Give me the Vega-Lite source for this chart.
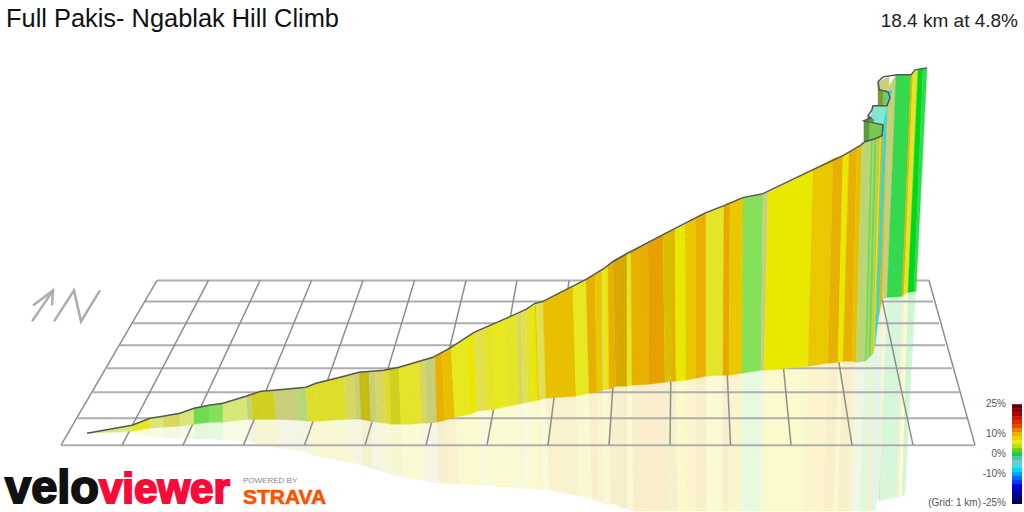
{"$schema":"https://vega.github.io/schema/vega-lite/v6.json","width":1024,"height":512,"padding":0,"autosize":{"type":"fit","contains":"padding"},"background":"white","config":{"view":{"stroke":null},"legend":{"disable":true}},
"datasets":{"seg":[
{"s":0,"g":2,"x":[87,132,132,87],"y":[434,426,432,434],"rx":[87,132,132,87],"ry":[434,432,434,434]},
{"s":1,"g":5.5,"x":[132,150,150,132],"y":[426,419,429,432],"rx":[132,150,150,132],"ry":[432,429,437,434]},
{"s":2,"g":2,"x":[150,163,163,150],"y":[419,417,428,429],"rx":[150,163,163,150],"ry":[429,428,438,437]},
{"s":3,"g":2.5,"x":[163,180,180,163],"y":[417,414,427,428],"rx":[163,180,180,163],"ry":[428,427,439,438]},
{"s":4,"g":2,"x":[180,194,194,180],"y":[414,409,425,427],"rx":[180,194,194,180],"ry":[427,425,440,439]},
{"s":5,"g":0,"x":[194,209,209,194],"y":[409,406,423,425],"rx":[194,209,209,194],"ry":[425,423,440,440]},
{"s":6,"g":0.5,"x":[209,223,223,209],"y":[406,404,423,423],"rx":[209,223,223,209],"ry":[423,423,441,440]},
{"s":7,"g":2,"x":[223,246,248,223],"y":[404,397,420,423],"rx":[223,248,249,223],"ry":[423,420,442,441]},
{"s":8,"g":1.5,"x":[246,251,253,248],"y":[397,395,420,420],"rx":[248,253,254,249],"ry":[420,420,444,442]},
{"s":9,"g":3.5,"x":[251,261,263,253],"y":[395,392,420,420],"rx":[253,263,264,254],"ry":[420,420,446,444]},
{"s":10,"g":3.5,"x":[261,274,276,263],"y":[392,391,420,420],"rx":[263,276,278,264],"ry":[420,420,449,446]},
{"s":11,"g":1.5,"x":[274,297,299,276],"y":[391,389,421,420],"rx":[276,299,301,278],"ry":[420,421,452,449]},
{"s":12,"g":1,"x":[297,306,308,299],"y":[389,388,422,421],"rx":[299,308,310,301],"ry":[421,422,455,452]},
{"s":13,"g":4,"x":[306,316,318,308],"y":[388,384,422,422],"rx":[308,318,320,310],"ry":[422,422,458,455]},
{"s":14,"g":4,"x":[316,344,346,318],"y":[384,377,420,422],"rx":[318,346,348,320],"ry":[422,420,463,458]},
{"s":15,"g":2.5,"x":[344,354,356,346],"y":[377,374,419,420],"rx":[346,356,358,348],"ry":[420,419,465,463]},
{"s":16,"g":1.5,"x":[354,359,361,356],"y":[374,373,420,419],"rx":[356,361,363,358],"ry":[419,420,466,465]},
{"s":17,"g":3,"x":[359,364,366,361],"y":[373,372,421,420],"rx":[361,366,368,363],"ry":[420,421,468,466]},
{"s":18,"g":3,"x":[364,369,371,366],"y":[372,372,422,421],"rx":[366,371,373,368],"ry":[421,422,470,468]},
{"s":19,"g":1.5,"x":[369,375,377,371],"y":[372,372,423,422],"rx":[371,377,379,373],"ry":[422,423,472,470]},
{"s":20,"g":2.5,"x":[375,384,386,377],"y":[372,371,424,423],"rx":[377,386,388,379],"ry":[423,424,474,472]},
{"s":21,"g":4,"x":[384,389,391,386],"y":[371,370,425,424],"rx":[386,391,393,388],"ry":[424,425,476,474]},
{"s":22,"g":3.5,"x":[389,399,401,391],"y":[370,368,425,425],"rx":[391,401,403,393],"ry":[425,425,478,476]},
{"s":23,"g":4.5,"x":[399,409,411,401],"y":[368,365,425,425],"rx":[401,411,413,403],"ry":[425,425,480,478]},
{"s":24,"g":4.5,"x":[409,419,421,411],"y":[365,362,424,425],"rx":[411,421,423,413],"ry":[425,424,481,480]},
{"s":25,"g":2.5,"x":[419,425,427,421],"y":[362,360,424,424],"rx":[421,427,429,423],"ry":[424,424,483,481]},
{"s":26,"g":1.5,"x":[425,435,437,427],"y":[360,357,423,424],"rx":[427,437,439,429],"ry":[424,423,484,483]},
{"s":27,"g":8,"x":[435,442,445,437],"y":[357,353,421,423],"rx":[437,445,448,439],"ry":[423,421,485,484]},
{"s":28,"g":7.5,"x":[442,451,455,445],"y":[353,348,418,421],"rx":[445,455,459,448],"ry":[421,418,485,485]},
{"s":29,"g":5.5,"x":[451,467,470,455],"y":[348,338,415,418],"rx":[455,470,473,459],"ry":[418,415,486,485]},
{"s":30,"g":6,"x":[467,474,477,470],"y":[338,333,412,415],"rx":[470,477,480,473],"ry":[415,412,486,486]},
{"s":31,"g":5,"x":[474,483,486,477],"y":[333,329,411,412],"rx":[477,486,489,480],"ry":[412,411,486,486]},
{"s":32,"g":4.5,"x":[483,493,495,486],"y":[329,325,410,411],"rx":[486,495,497,489],"ry":[411,410,488,486]},
{"s":33,"g":5.5,"x":[493,506,508,495],"y":[325,319,407,410],"rx":[495,508,510,497],"ry":[410,407,488,488]},
{"s":34,"g":4.5,"x":[506,517,519,508],"y":[319,315,405,407],"rx":[508,519,521,510],"ry":[407,405,490,488]},
{"s":35,"g":2.5,"x":[517,521,523,519],"y":[315,313,404,405],"rx":[519,523,525,521],"ry":[405,404,490,490]},
{"s":36,"g":5,"x":[521,526,528,523],"y":[313,310,403,404],"rx":[523,528,530,525],"ry":[404,403,490,490]},
{"s":37,"g":4.5,"x":[526,531,533,528],"y":[310,308,402,403],"rx":[528,533,535,530],"ry":[403,402,490,490]},
{"s":38,"g":6,"x":[531,535,538,533],"y":[308,306,401,402],"rx":[533,538,541,535],"ry":[402,401,491,490]},
{"s":39,"g":7.5,"x":[535,536,539,538],"y":[306,305,401,401],"rx":[538,539,542,541],"ry":[401,401,491,491]},
{"s":40,"g":5,"x":[536,543,546,539],"y":[305,302,399,401],"rx":[539,546,549,542],"ry":[401,399,491,491]},
{"s":41,"g":7.5,"x":[543,573,576,546],"y":[302,287,397,399],"rx":[546,576,579,549],"ry":[399,397,497,491]},
{"s":42,"g":5.5,"x":[573,586,589,576],"y":[287,280,394,397],"rx":[576,589,592,579],"ry":[397,394,500,497]},
{"s":43,"g":8,"x":[586,595,597,589],"y":[280,275,393,394],"rx":[589,597,599,592],"ry":[394,393,503,500]},
{"s":44,"g":7,"x":[595,602,603,597],"y":[275,271,391,393],"rx":[597,603,604,599],"ry":[393,391,505,503]},
{"s":45,"g":5,"x":[602,604,606,603],"y":[271,269,390,391],"rx":[603,606,608,604],"ry":[391,390,505,505]},
{"s":46,"g":6,"x":[604,608,609,606],"y":[269,266,390,390],"rx":[606,609,610,608],"ry":[390,390,505,505]},
{"s":47,"g":8,"x":[608,613,616,609],"y":[266,262,387,390],"rx":[609,616,619,610],"ry":[390,387,506,505]},
{"s":48,"g":8.5,"x":[613,617,618,616],"y":[262,259,387,387],"rx":[616,618,619,619],"ry":[387,387,508,506]},
{"s":49,"g":8.5,"x":[617,627,627,618],"y":[259,254,387,387],"rx":[618,627,627,619],"ry":[387,387,510,508]},
{"s":50,"g":4.5,"x":[627,631,632,627],"y":[254,252,386,387],"rx":[627,632,633,627],"ry":[387,386,512,510]},
{"s":51,"g":8,"x":[631,648,649,632],"y":[252,244,385,386],"rx":[632,649,650,633],"ry":[386,385,520,512]},
{"s":52,"g":9,"x":[648,663,665,649],"y":[244,235,383,385],"rx":[649,665,667,650],"ry":[385,383,522,520]},
{"s":53,"g":6.5,"x":[663,672,672,665],"y":[235,231,382,383],"rx":[665,672,672,667],"ry":[383,382,525,522]},
{"s":54,"g":8,"x":[672,675,676,672],"y":[231,230,382,382],"rx":[672,676,677,672],"ry":[382,382,525,525]},
{"s":55,"g":6,"x":[675,685,686,676],"y":[230,225,381,382],"rx":[676,686,687,677],"ry":[382,381,525,525]},
{"s":56,"g":7,"x":[685,696,696,686],"y":[225,218,379,381],"rx":[686,696,696,687],"ry":[381,379,525,525]},
{"s":57,"g":8,"x":[696,706,706,696],"y":[218,213,377,379],"rx":[696,706,706,696],"ry":[379,377,525,525]},
{"s":58,"g":4.5,"x":[706,724,723,706],"y":[213,206,376,377],"rx":[706,723,722,706],"ry":[377,376,525,525]},
{"s":59,"g":8.2,"x":[724,730,729,723],"y":[206,203,376,376],"rx":[723,729,728,722],"ry":[376,376,525,525]},
{"s":60,"g":7,"x":[730,743,742,729],"y":[203,198,374,376],"rx":[729,742,741,728],"ry":[376,374,525,525]},
{"s":61,"g":0.5,"x":[743,763,761,742],"y":[198,194,371,374],"rx":[742,761,759,741],"ry":[374,371,525,525]},
{"s":62,"g":1.5,"x":[763,768,764,761],"y":[194,193,371,371],"rx":[761,764,760,759],"ry":[371,371,525,525]},
{"s":63,"g":6,"x":[768,813,808,764],"y":[193,170,367,371],"rx":[764,808,803,760],"ry":[371,367,525,525]},
{"s":64,"g":7,"x":[813,833,828,808],"y":[170,159,364,367],"rx":[808,828,823,803],"ry":[367,364,525,525]},
{"s":65,"g":8,"x":[833,843,838,828],"y":[159,156,363,364],"rx":[828,838,833,823],"ry":[364,363,525,525]},
{"s":66,"g":6,"x":[843,849,843,838],"y":[156,153,362,363],"rx":[838,843,837,833],"ry":[363,362,525,525]},
{"s":67,"g":8,"x":[849,857,852,843],"y":[153,149,362,362],"rx":[843,852,847,837],"ry":[362,362,525,525]},
{"s":68,"g":7.5,"x":[857,862,856,852],"y":[149,143,363,362],"rx":[852,856,850,847],"ry":[362,363,525,525]},
{"s":69,"g":1,"x":[862,871,865,856],"y":[143,140,362,363],"rx":[856,865,859,850],"ry":[363,362,525,525]},
{"s":70,"g":0,"x":[871,879,873,865],"y":[140,137,354,362],"rx":[865,873,867,859],"ry":[362,354,525,525]},
{"s":71,"g":8,"x":[879,884,875,873],"y":[137,106,345,354],"rx":[873,875,872,867],"ry":[354,345,525,525]},
{"s":72,"g":-9,"x":[884,888,879,875],"y":[106,100,315,345],"rx":[875,879,877,872],"ry":[345,315,502,525]},
{"s":73,"g":8,"x":[888,890,882,879],"y":[100,92,300,315],"rx":[879,882,880,877],"ry":[315,300,500,502]},
{"s":74,"g":1.5,"x":[888,896,887,882],"y":[88,75,298,300],"rx":[882,887,879,880],"ry":[300,298,502,500]},
{"s":75,"g":-1,"x":[896,911,902,887],"y":[75,75,297,298],"rx":[887,902,897,879],"ry":[298,297,498,502]},
{"s":76,"g":8,"x":[911,913,904,902],"y":[75,72,295,297],"rx":[902,904,899,897],"ry":[297,295,498,498]},
{"s":77,"g":4.5,"x":[913,918,908,904],"y":[72,70,293,295],"rx":[904,908,902,899],"ry":[295,293,497,498]},
{"s":78,"g":-0.5,"x":[918,923,914,908],"y":[70,69,292,293],"rx":[908,914,904,902],"ry":[293,292,496,497]},
{"s":79,"g":-1,"x":[923,927,916,914],"y":[69,68,292,292],"rx":[914,916,905,904],"ry":[292,292,495,496]}
],
"fold":[
{"s":95,"g":1.5,"x":[866,867,860,859],"y":[142,142,362,362]},
{"s":96,"g":1.5,"x":[873,874,868,867],"y":[140,140,360,360]},
{"s":97,"g":1.5,"x":[877,878,872,871],"y":[138,138,356,357]},
{"s":98,"g":5.5,"x":[880,881,874,873],"y":[130,130,350,354]},
{"s":101,"g":-0.2,"x":[864,883,882,864],"y":[121,125,136,142]},
{"s":102,"g":-0.3,"x":[864,869,869,864],"y":[121,122,141,142]},
{"s":103,"g":-6,"x":[872,887,883,871],"y":[106,106,125,120]},
{"s":104,"g":-0.3,"x":[868,874,874,867],"y":[116,120,122,121]},
{"s":105,"g":3.2,"x":[878,883,883,878],"y":[82,84,105,106]},
{"s":108,"g":-0.2,"x":[883,887,887,883],"y":[80,85,104,105]},
{"s":106,"g":-9,"x":[887,892,890,887],"y":[91,91,98,105]},
{"s":107,"g":1.5,"x":[879,889,889,880],"y":[82,77,91,90]}
]},
"layer":[
{"data":{"name":"seg"},"transform":[{"flatten":["rx","ry"]},{"window":[{"op":"row_number","as":"k"}],"groupby":["s"]}],
"mark":{"type":"line","clip":true,"interpolate":"linear-closed","opacity":0.2,"strokeWidth":0},
"encoding":{"x":{"field":"rx","type":"quantitative","scale":{"domain":[0,1024],"nice":false,"zero":false},"axis":null},"y":{"field":"ry","type":"quantitative","scale":{"domain":[512,0],"nice":false,"zero":false},"axis":null},"detail":{"field":"s"},"order":{"field":"k"},
"fill":{"field":"g","type":"ordinal","legend":null,"scale":{"domain":[-9,-6,-1,-0.5,-0.3,-0.2,0,0.5,1,1.5,2,2.5,3,3.2,3.5,4,4.5,5,5.5,6,6.5,7,7.5,8,8.2,8.5,9],"range":["#30d8e0","#80e8d0","#35d94d","#00d820","#5a9a40","#78c850","#6edc4e","#85e05a","#b5d878","#c8cf7a","#d8e878","#d8d860","#c4bc10","#7a9a30","#d0d020","#dede2a","#e4e428","#e0e050","#e8e820","#e8e800","#d8c000","#eac800","#e8c000","#e8b000","#e8a800","#d8a800","#e8a000"]}},
"stroke":{"value":"transparent"}}},
{"data":{"values":[
{"a":157,"b":281,"c":929,"d":281},{"a":145,"b":302,"c":933,"d":302},{"a":133,"b":324,"c":939,"d":324},{"a":120,"b":346,"c":945,"d":346},{"a":107,"b":369,"c":952,"d":369},{"a":93,"b":393,"c":959,"d":393},{"a":78,"b":419,"c":967,"d":419},{"a":61,"b":446,"c":975,"d":446}]},
"mark":{"type":"rule","color":"#aeaeae","strokeWidth":2},
"encoding":{"x":{"field":"a","type":"quantitative"},"y":{"field":"b","type":"quantitative"},"x2":{"field":"c"},"y2":{"field":"d"}}},
{"data":{"values":[
{"a":157,"b":281,"c":61,"d":446},{"a":208.5,"b":281,"c":122,"d":446},{"a":260,"b":281,"c":183,"d":446},{"a":311.5,"b":281,"c":243.5,"d":446},{"a":363,"b":281,"c":304.5,"d":446},{"a":414.5,"b":281,"c":365,"d":446},{"a":466,"b":281,"c":426,"d":446},{"a":517,"b":281,"c":487,"d":446},{"a":569,"b":281,"c":548,"d":446},{"a":620,"b":281,"c":609,"d":446},{"a":672,"b":281,"c":670,"d":446},{"a":723,"b":281,"c":730.5,"d":446},{"a":775,"b":281,"c":791,"d":446},{"a":826,"b":281,"c":852,"d":446},{"a":878,"b":281,"c":913,"d":446},{"a":929,"b":281,"c":975,"d":446}]},
"mark":{"type":"rule","color":"#8e8e8e","strokeWidth":1.5},
"encoding":{"x":{"field":"a","type":"quantitative"},"y":{"field":"b","type":"quantitative"},"x2":{"field":"c"},"y2":{"field":"d"}}},
{"data":{"name":"seg"},"transform":[{"flatten":["x","y"]},{"window":[{"op":"row_number","as":"k"}],"groupby":["s"]}],
"mark":{"type":"line","interpolate":"linear-closed","strokeWidth":0.4},
"encoding":{"x":{"field":"x","type":"quantitative"},"y":{"field":"y","type":"quantitative"},"detail":{"field":"s"},"order":{"field":"k"},"fill":{"field":"g","type":"ordinal","legend":null},"stroke":{"field":"g","type":"ordinal","legend":null,"scale":{"domain":[-9,-6,-1,-0.5,-0.3,-0.2,0,0.5,1,1.5,2,2.5,3,3.2,3.5,4,4.5,5,5.5,6,6.5,7,7.5,8,8.2,8.5,9],"range":["#30d8e0","#80e8d0","#35d94d","#00d820","#5a9a40","#78c850","#6edc4e","#85e05a","#b5d878","#c8cf7a","#d8e878","#d8d860","#c4bc10","#7a9a30","#d0d020","#dede2a","#e4e428","#e0e050","#e8e820","#e8e800","#d8c000","#eac800","#e8c000","#e8b000","#e8a800","#d8a800","#e8a000"]}}}},
{"data":{"name":"fold"},"transform":[{"flatten":["x","y"]},{"window":[{"op":"row_number","as":"k"}],"groupby":["s"]}],
"mark":{"type":"line","interpolate":"linear-closed","strokeWidth":0.4},
"encoding":{"x":{"field":"x","type":"quantitative"},"y":{"field":"y","type":"quantitative"},"detail":{"field":"s"},"order":{"field":"k"},"fill":{"field":"g","type":"ordinal","legend":null},"stroke":{"field":"g","type":"ordinal","legend":null}}},
{"data":{"values":[
{"k":0,"x":87,"y":434},{"k":1,"x":132,"y":426},{"k":2,"x":150,"y":419},{"k":3,"x":163,"y":417},{"k":4,"x":180,"y":414},{"k":5,"x":194,"y":409},{"k":6,"x":209,"y":406},{"k":7,"x":223,"y":404},{"k":8,"x":246,"y":397},{"k":9,"x":261,"y":392},{"k":10,"x":274,"y":391},{"k":11,"x":306,"y":388},{"k":12,"x":316,"y":384},{"k":13,"x":344,"y":377},{"k":14,"x":359,"y":373},{"k":15,"x":384,"y":371},{"k":16,"x":399,"y":368},{"k":17,"x":433,"y":358},{"k":18,"x":451,"y":348},{"k":19,"x":474,"y":333},{"k":20,"x":506,"y":319},{"k":21,"x":526,"y":310},{"k":22,"x":535,"y":304},{"k":23,"x":543,"y":302},{"k":24,"x":586,"y":280},{"k":25,"x":604,"y":269},{"k":26,"x":613,"y":262},{"k":27,"x":627,"y":254},{"k":28,"x":631,"y":252},{"k":29,"x":663,"y":235},{"k":30,"x":696,"y":218},{"k":31,"x":706,"y":213},{"k":32,"x":724,"y":206},{"k":33,"x":743,"y":198},{"k":34,"x":763,"y":194},{"k":35,"x":813,"y":170},{"k":36,"x":843,"y":156},{"k":37,"x":860,"y":146},{"k":38,"x":865,"y":142},{"k":39,"x":875,"y":139},{"k":40,"x":882,"y":136},{"k":41,"x":883,"y":125},{"k":42,"x":864,"y":121},{"k":43,"x":871,"y":118},{"k":44,"x":868,"y":116},{"k":45,"x":872,"y":110},{"k":46,"x":873,"y":106},{"k":47,"x":887,"y":106},{"k":48,"x":890,"y":98},{"k":49,"x":888,"y":92},{"k":50,"x":879,"y":90},{"k":51,"x":878,"y":82},{"k":52,"x":883,"y":77},{"k":53,"x":897,"y":75},{"k":54,"x":911,"y":75},{"k":55,"x":915,"y":70},{"k":56,"x":927,"y":68}]},
"mark":{"type":"line","color":"#555555","strokeWidth":1.5},
"encoding":{"x":{"field":"x","type":"quantitative"},"y":{"field":"y","type":"quantitative"},"order":{"field":"k"}}},
{"data":{"values":[
{"p":"a","k":0,"x":32,"y":322},{"p":"a","k":1,"x":53,"y":291},{"p":"b","k":0,"x":33,"y":306},{"p":"b","k":1,"x":53,"y":291},{"p":"b","k":2,"x":52,"y":306},{"p":"n","k":0,"x":54,"y":322},{"p":"n","k":1,"x":74,"y":291},{"p":"n","k":2,"x":81,"y":322},{"p":"n","k":3,"x":100,"y":291}]},
"mark":{"type":"line","color":"#adadad","strokeWidth":2.5},
"encoding":{"x":{"field":"x","type":"quantitative"},"y":{"field":"y","type":"quantitative"},"detail":{"field":"p"},"order":{"field":"k"}}},
{"data":{"values":[
{"g":24,"a":405,"b":409.5,"l":1012,"r":1022},{"g":22,"a":409,"b":413.5,"l":1012,"r":1022},{"g":20,"a":413,"b":417.5,"l":1012,"r":1022},{"g":18,"a":417,"b":421.5,"l":1012,"r":1022},{"g":16,"a":421,"b":425.5,"l":1012,"r":1022},{"g":14,"a":425,"b":429.5,"l":1012,"r":1022},{"g":12,"a":429,"b":433.5,"l":1012,"r":1022},{"g":10,"a":433,"b":437.5,"l":1012,"r":1022},{"g":8,"a":437,"b":441.5,"l":1012,"r":1022},{"g":6,"a":441,"b":445.5,"l":1012,"r":1022},{"g":4,"a":445,"b":449.5,"l":1012,"r":1022},{"g":2,"a":449,"b":453.5,"l":1012,"r":1022},{"g":0,"a":453,"b":457.5,"l":1012,"r":1022},{"g":-2,"a":457,"b":461.5,"l":1012,"r":1022},{"g":-4,"a":461,"b":465.5,"l":1012,"r":1022},{"g":-6,"a":465,"b":469.5,"l":1012,"r":1022},{"g":-8,"a":469,"b":473.5,"l":1012,"r":1022},{"g":-10,"a":473,"b":477.5,"l":1012,"r":1022},{"g":-12,"a":477,"b":481.5,"l":1012,"r":1022},{"g":-14,"a":481,"b":485.5,"l":1012,"r":1022},{"g":-16,"a":485,"b":489.5,"l":1012,"r":1022},{"g":-18,"a":489,"b":493.5,"l":1012,"r":1022},{"g":-20,"a":493,"b":497.5,"l":1012,"r":1022},{"g":-22,"a":497,"b":501.5,"l":1012,"r":1022},{"g":-24,"a":501,"b":505,"l":1012,"r":1022}]},
"mark":{"type":"rect"},
"encoding":{"x":{"field":"l","type":"quantitative"},"x2":{"field":"r"},"y":{"field":"a","type":"quantitative"},"y2":{"field":"b"},"color":{"field":"g","type":"quantitative","legend":null,"scale":{"domain":[-25,-20,-15,-11,-7.5,-3.5,-1,1,3,6,10,14,19,25],"range":["#000050","#0000a0","#0000f0","#0080ff","#00e0f0","#70c8c8","#40c880","#00c800","#a0d820","#f0e800","#f0b000","#f04000","#c80000","#500000"]}}}},
{"data":{"values":[{"x":1006,"y":405,"t":"25%"},{"x":1006,"y":435,"t":"10%"},{"x":1006,"y":454.5,"t":"0%"},{"x":1006,"y":474.5,"t":"-10%"},{"x":1006,"y":504,"t":"-25%"},{"x":981,"y":504,"t":"(Grid: 1 km)"}]},
"mark":{"type":"text","align":"right","baseline":"middle","font":"Liberation Sans","fontSize":10,"color":"#555555"},
"encoding":{"x":{"field":"x","type":"quantitative"},"y":{"field":"y","type":"quantitative"},"text":{"field":"t"}}},
{"data":{"values":[{"x":6,"y":27,"t":"Full Pakis- Ngablak Hill Climb"}]},
"mark":{"type":"text","align":"left","baseline":"alphabetic","font":"Liberation Sans","fontSize":25.4,"color":"#111111"},
"encoding":{"x":{"field":"x","type":"quantitative"},"y":{"field":"y","type":"quantitative"},"text":{"field":"t"}}},
{"data":{"values":[{"x":1018,"y":27,"t":"18.4 km at 4.8%"}]},
"mark":{"type":"text","align":"right","baseline":"alphabetic","font":"Liberation Sans","fontSize":19,"color":"#222222"},
"encoding":{"x":{"field":"x","type":"quantitative"},"y":{"field":"y","type":"quantitative"},"text":{"field":"t"}}},
{"data":{"values":[{"x":5,"y":504,"t":"velo"}]},
"mark":{"type":"text","align":"left","baseline":"alphabetic","font":"Liberation Sans","fontWeight":"bold","fontSize":47,"color":"#111111","stroke":"#111111","strokeWidth":2},
"encoding":{"x":{"field":"x","type":"quantitative"},"y":{"field":"y","type":"quantitative"},"text":{"field":"t"}}},
{"data":{"values":[{"x":99,"y":504,"t":"viewer"}]},
"mark":{"type":"text","align":"left","baseline":"alphabetic","font":"Liberation Sans","fontWeight":"bold","fontSize":42,"color":"#fb0a38","stroke":"#fb0a38","strokeWidth":2},
"encoding":{"x":{"field":"x","type":"quantitative"},"y":{"field":"y","type":"quantitative"},"text":{"field":"t"}}},
{"data":{"values":[{"x":243,"y":484,"t":"POWERED BY"}]},
"mark":{"type":"text","align":"left","baseline":"alphabetic","font":"Liberation Sans","fontSize":8,"color":"#888888"},
"encoding":{"x":{"field":"x","type":"quantitative"},"y":{"field":"y","type":"quantitative"},"text":{"field":"t"}}},
{"data":{"values":[{"x":243,"y":505,"t":"STRAVA"}]},
"mark":{"type":"text","align":"left","baseline":"alphabetic","font":"Liberation Sans","fontWeight":"bold","fontSize":21,"color":"#fc5200","stroke":"#fc5200","strokeWidth":0.6},
"encoding":{"x":{"field":"x","type":"quantitative"},"y":{"field":"y","type":"quantitative"},"text":{"field":"t"}}}
]}
